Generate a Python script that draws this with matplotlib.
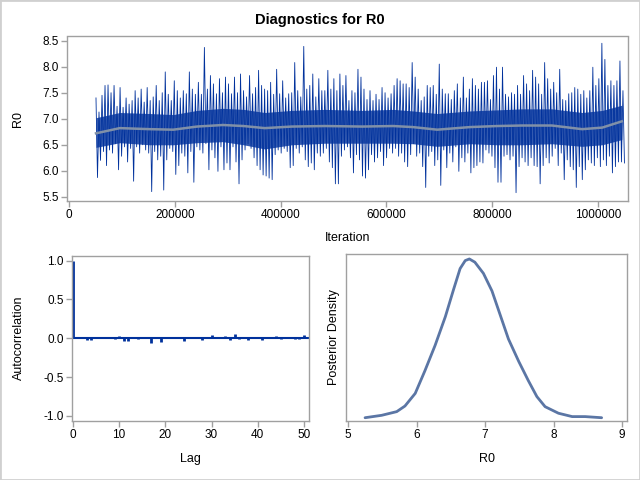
import numpy as np
import matplotlib
matplotlib.use("Agg")
import matplotlib.pyplot as plt
from matplotlib.patches import Rectangle
from matplotlib.ticker import FormatStrFormatter

plt.rcParams['font.family'] = ['Liberation Sans', 'DejaVu Sans']

# trace: local max / min of R0 per ~5700-iteration block
trace_hi = [
    7.40, 7.13, 7.45, 7.64, 7.65, 7.50, 7.64, 7.24, 7.60, 7.22, 7.40, 7.28, 7.35, 7.54, 7.40,
    7.57, 7.32, 7.60, 7.35, 7.42, 7.64, 7.35, 7.50, 7.90, 7.47, 7.35, 7.73, 7.54, 7.40, 7.54,
    7.48, 7.90, 7.57, 7.47, 7.70, 7.47, 8.37, 7.57, 7.83, 7.67, 7.48, 7.77, 7.50, 7.80,
    7.67, 7.48, 7.80, 7.50, 7.86, 7.54, 7.42, 7.83, 7.48, 7.60, 7.93, 7.64, 7.57, 7.54, 7.70,
    7.47, 7.95, 7.48, 7.73, 7.40, 7.48, 7.50, 8.08, 7.54, 7.42, 8.39, 7.57, 7.64, 7.86, 7.42,
    7.77, 7.54, 7.54, 7.93, 7.57, 7.77, 7.54, 7.86, 7.64, 7.83, 7.35, 7.54, 7.50, 7.95, 7.80,
    7.57, 7.37, 7.54, 7.35, 7.47, 7.37, 7.60, 7.50, 7.40, 7.48, 7.64, 7.77, 7.73, 7.67, 7.67,
    7.60, 8.08, 7.80, 7.57, 7.35, 7.42, 7.64, 7.60, 7.64, 7.47, 8.05, 7.57, 7.48, 7.48, 7.37,
    7.54, 7.67, 7.40, 7.80, 7.40, 7.57, 7.77, 7.64, 7.57, 7.70, 7.70, 7.73, 7.37, 7.83, 7.99,
    7.57, 7.99, 7.47, 7.42, 7.50, 7.47, 7.64, 7.47, 7.83, 7.67, 7.54, 7.93, 7.80, 7.67, 7.47,
    8.08, 7.77, 7.57, 7.70, 7.50, 7.95, 7.37, 7.35, 7.48, 7.50, 7.60, 7.57, 7.47, 7.54, 7.40,
    7.54, 7.99, 7.64, 7.77, 8.45, 8.14, 7.64, 7.73, 7.64, 7.73, 8.11, 7.54,
]
trace_lo = [
    5.87, 6.20, 6.37, 6.10, 6.40, 6.34, 6.52, 6.02, 6.28, 6.46, 6.17, 6.43, 5.80, 6.46, 6.34,
    6.50, 6.40, 6.34, 5.60, 6.37, 6.21, 6.28, 5.63, 6.21, 6.43, 6.37, 5.93, 6.10, 6.34, 6.28,
    5.96, 6.37, 5.78, 6.46, 6.40, 6.34, 6.52, 6.02, 6.40, 6.25, 5.99, 6.46, 6.02, 6.15,
    6.02, 6.46, 6.17, 5.75, 6.21, 6.40, 6.52, 6.43, 6.25, 6.10, 6.02, 5.92, 5.90, 5.86, 5.83,
    6.31, 6.40, 6.34, 6.43, 6.37, 6.06, 6.10, 6.43, 6.34, 6.46, 6.21, 6.08, 6.15, 6.02, 6.34,
    6.28, 6.34, 6.43, 6.17, 6.06, 5.75, 5.75, 6.28, 6.40, 6.46, 6.25, 5.96, 6.31, 6.21, 5.90,
    5.86, 6.02, 6.31, 6.17, 6.25, 6.37, 6.10, 6.25, 6.43, 6.34, 6.43, 6.28, 6.34, 6.17, 6.08,
    6.31, 6.52, 6.28, 6.34, 6.08, 5.68, 6.28, 6.37, 6.10, 6.21, 5.72, 6.40, 6.06, 6.34, 6.17,
    6.46, 5.99, 6.25, 6.17, 6.34, 5.96, 6.06, 6.10, 6.17, 6.15, 6.40, 6.34, 6.28, 6.06, 5.78,
    5.78, 6.28, 6.31, 6.21, 6.28, 5.58, 6.08, 6.25, 6.17, 6.10, 6.25, 6.10, 6.08, 5.75, 6.10,
    6.25, 6.15, 6.28, 6.43, 6.10, 6.34, 5.83, 6.21, 6.08, 6.02, 5.68, 6.08, 5.83, 6.02, 6.21,
    6.15, 6.10, 6.25, 6.08, 6.21, 6.10, 6.28, 5.96, 6.08, 6.17, 6.17, 6.15,
]
first_iter = 51000
last_iter = 1050000

# smoothed mean line and the dense core of the trace band
mean_iter = [51000, 96000, 153000, 197000, 242000, 291000, 330000, 370000, 421000, 484000,
             554000, 613000, 650000, 696000, 758000, 809000, 856000, 913000, 970000, 1008000,
             1045000]
mean_val = [6.72, 6.82, 6.80, 6.79, 6.85, 6.88, 6.86, 6.82, 6.85, 6.86,
            6.85, 6.86, 6.84, 6.79, 6.84, 6.86, 6.87, 6.87, 6.80, 6.83, 6.95]
core_hi = [7.02, 7.12, 7.10, 7.08, 7.16, 7.20, 7.18, 7.12, 7.16, 7.18,
           7.16, 7.18, 7.15, 7.10, 7.15, 7.17, 7.19, 7.19, 7.12, 7.16, 7.26]
core_lo = [6.45, 6.54, 6.50, 6.50, 6.54, 6.56, 6.50, 6.42, 6.50, 6.53,
           6.53, 6.53, 6.52, 6.47, 6.52, 6.50, 6.50, 6.52, 6.47, 6.50, 6.60]

# autocorrelation by lag
lags = list(range(0, 51))
acf = [1.0, 0.003, 0.02, -0.02, -0.025, 0.013, 0.013, 0.004, 0.017, -0.004,
       0.026, -0.039, -0.039, 0.003, -0.004, 0.004, 0.013, -0.056, 0.013, -0.043,
       0.013, 0.003, -0.003, 0.013, -0.03, 0.01, 0.01, 0.013, -0.017, 0.003,
       0.043, -0.003, 0.004, 0.026, -0.017, 0.052, -0.013, 0.003, -0.02, 0.013,
       0.003, -0.017, 0.008, 0.003, 0.034, -0.013, 0.013, 0.003, -0.004, -0.008, 0.04]

# posterior density
dens_x = [5.248, 5.49, 5.71, 5.83, 5.98, 6.12, 6.27, 6.42, 6.54, 6.635, 6.71, 6.77, 6.85,
          6.975, 7.10, 7.22, 7.34, 7.49, 7.63, 7.755, 7.875, 8.07, 8.27, 8.46, 8.70]
dens_y = [0.008, 0.023, 0.046, 0.081, 0.16, 0.30, 0.46, 0.64, 0.81, 0.94, 0.99, 1.0, 0.98,
          0.91, 0.80, 0.65, 0.50, 0.36, 0.24, 0.14, 0.077, 0.036, 0.015, 0.015, 0.008]

trace_col = '#00319c'
spine_col = '#a0a0a0'

fig = plt.figure(figsize=(6.4, 4.8), dpi=100)
fig.patches.append(Rectangle((0, 0), 1, 1, transform=fig.transFigure, fill=False,
                             edgecolor='#d0d0d0', linewidth=2))
fig.text(0.5, 1 - 20 / 480, 'Diagnostics for R0', ha='center', va='center',
         fontsize=10.5, fontweight='bold')


def style(ax):
    for s in ax.spines.values():
        s.set_color(spine_col)
        s.set_linewidth(1)
    ax.tick_params(direction='out', length=4, color=spine_col, width=1,
                   labelsize=8.5, labelcolor='black', pad=2)


# trace plot
ax1 = fig.add_axes([67 / 640, 1 - 201 / 480, 561 / 640, 164.5 / 480])
n = len(trace_hi)
zig = np.empty(2 * n)
zig[0::2] = trace_hi
zig[1::2] = trace_lo
xs = np.linspace(first_iter, last_iter, 2 * n)
ax1.fill_between(mean_iter, core_lo, core_hi, color=trace_col, alpha=0.8, linewidth=0)
ax1.plot(xs, zig, color=trace_col, linewidth=0.6)
ax1.plot(mean_iter, mean_val, color='#8090a8', linewidth=1.8)
ax1.set_xlim(-3800, 1056700)
ax1.set_ylim(5.42, 8.58)
ax1.set_xticks([0, 200000, 400000, 600000, 800000, 1000000])
ax1.set_xticklabels(['0', '200000', '400000', '600000', '800000', '1000000'])
ax1.set_yticks([5.5, 6.0, 6.5, 7.0, 7.5, 8.0, 8.5])
ax1.yaxis.set_major_formatter(FormatStrFormatter('%.1f'))
ax1.set_xlabel('Iteration', fontsize=9)
ax1.set_ylabel('R0', fontsize=9)
ax1.xaxis.set_label_coords(0.5, -0.19)
ax1.yaxis.set_label_coords(-0.077, 0.5)
style(ax1)

# autocorrelation
ax2 = fig.add_axes([72 / 640, 1 - 421 / 480, 237 / 640, 165.5 / 480])
ax2.vlines(lags, 0, acf, color=trace_col, linewidth=2)
ax2.axhline(0, color=trace_col, linewidth=1.5)
ax2.set_xlim(-0.2, 51.1)
ax2.set_ylim(-1.065, 1.065)
ax2.set_xticks([0, 10, 20, 30, 40, 50])
ax2.set_yticks([-1.0, -0.5, 0.0, 0.5, 1.0])
ax2.yaxis.set_major_formatter(FormatStrFormatter('%.1f'))
ax2.set_xlabel('Lag', fontsize=9)
ax2.set_ylabel('Autocorrelation', fontsize=9)
ax2.xaxis.set_label_coords(0.5, -0.195)
ax2.yaxis.set_label_coords(-0.198, 0.5)
style(ax2)

# density
ax3 = fig.add_axes([346 / 640, 1 - 421 / 480, 281 / 640, 167 / 480])
ax3.plot(dens_x, dens_y, color='#5b76a5', linewidth=2, solid_capstyle='round')
ax3.set_xlim(4.97, 9.07)
ax3.set_ylim(-0.0125, 1.031)
ax3.set_xticks([5, 6, 7, 8, 9])
ax3.set_yticks([])
ax3.set_xlabel('R0', fontsize=9)
ax3.set_ylabel('Posterior Density', fontsize=9)
ax3.xaxis.set_label_coords(0.5, -0.19)
ax3.yaxis.set_label_coords(-0.021, 0.5)
style(ax3)

fig.savefig('out.png', dpi=100)
